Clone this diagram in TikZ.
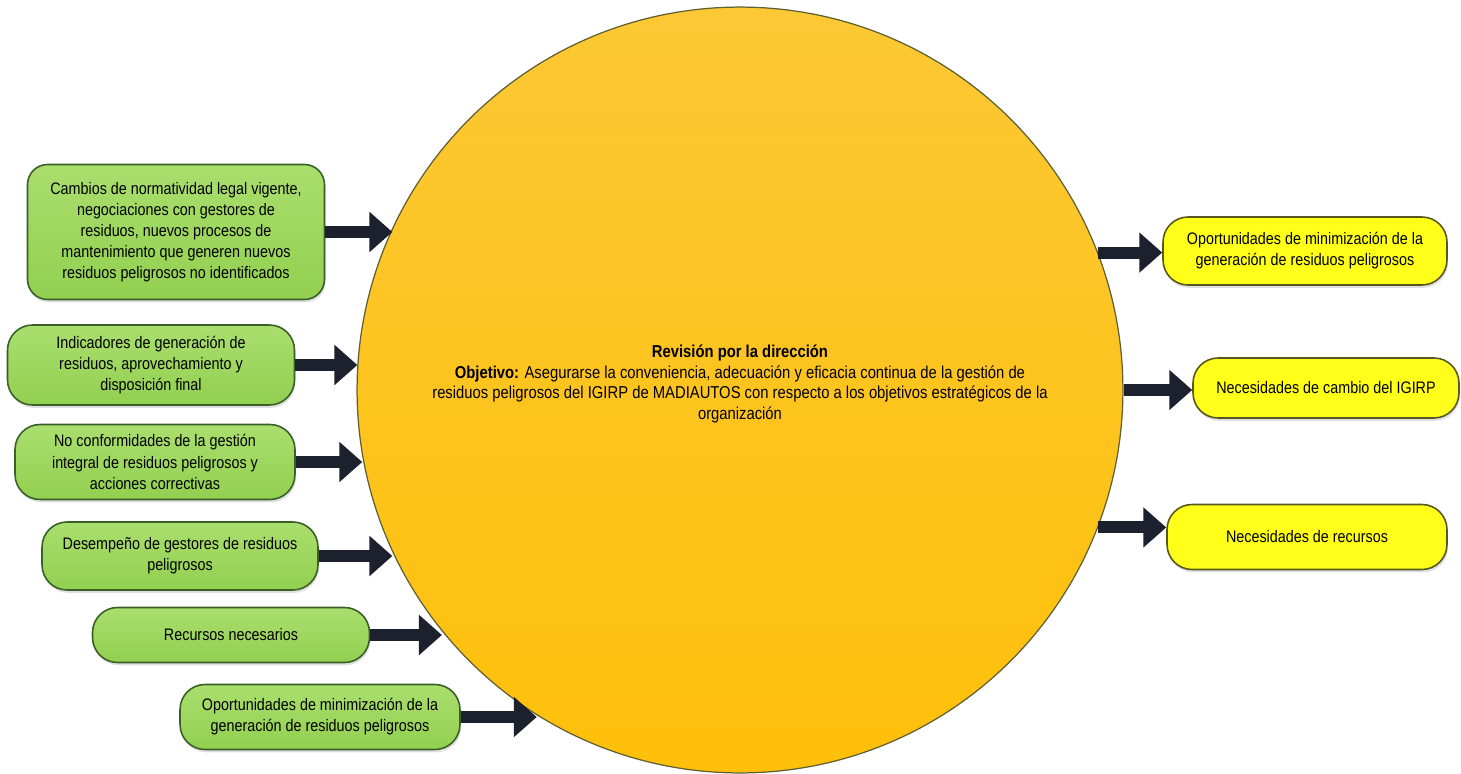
\documentclass[tikz,border=0pt]{standalone}
\usepackage{fontspec}
\setmainfont{Liberation Sans}[FakeStretch=0.86]
\usetikzlibrary{arrows.meta,shadows}
\definecolor{verdecaja}{RGB}{146,208,80}
\definecolor{verdeclaro}{RGB}{170,222,110}
\definecolor{verdeborde}{RGB}{58,96,40}
\definecolor{amarillocaja}{RGB}{255,255,25}
\definecolor{bordeamarillo}{RGB}{88,88,30}
\definecolor{naranjacirc}{RGB}{255,192,10}
\definecolor{naranjaclaro}{RGB}{252,200,52}
\definecolor{bordecirc}{RGB}{95,95,50}
\definecolor{flecha}{RGB}{28,33,45}

\begin{document}
\begin{tikzpicture}[x=0.02cm,y=-0.02cm,line join=round,
  caja/.style={draw=verdeborde,line width=0.9pt,top color=verdeclaro,bottom color=verdecaja,
    rounded corners=0.5cm,align=center,inner sep=2pt,font=\fontsize{9.5}{12}\selectfont,
    drop shadow={opacity=0.25,shadow xshift=0.6pt,shadow yshift=-1.6pt}},
  salida/.style={caja,draw=bordeamarillo,top color=amarillocaja,bottom color=amarillocaja},
  flechagruesa/.style={draw=flecha,line width=0.24cm,-{Triangle[length=0.46cm,width=0.78cm]}}]
  \useasboundingbox (0,0) rectangle (1461,774);
  \node[circle,draw=bordecirc,line width=0.7pt,minimum size=15.32cm,inner sep=0pt,
    top color=naranjaclaro,bottom color=naranjacirc] (revision) at (740,390) {};
  \node[align=center,font=\fontsize{9.8}{11.6}\selectfont] (objetivo) at (740,384)
    {\textbf{Revisión por la dirección}\\
     \textbf{Objetivo:} Asegurarse la conveniencia, adecuación y eficacia continua de la gestión de\\
     residuos peligrosos del IGIRP de MADIAUTOS con respecto a los objetivos estratégicos de la\\
     organización};
  \node[caja,rounded corners=0.4cm,minimum width=5.94cm,minimum height=2.7cm] (cambios) at (176,232)
    {Cambios de normatividad legal vigente,\\negociaciones con gestores de\\residuos, nuevos procesos de\\mantenimiento que generen nuevos\\residuos peligrosos no identificados};
  \node[caja,minimum width=5.74cm,minimum height=1.6cm] (indicadores) at (151,365)
    {Indicadores de generación de\\residuos, aprovechamiento y\\disposición final};
  \node[caja,minimum width=5.6cm,minimum height=1.5cm] (noconformidades) at (155,462)
    {No conformidades de la gestión\\integral de residuos peligrosos y\\acciones correctivas};
  \node[caja,minimum width=5.52cm,minimum height=1.36cm] (desempeno) at (180,556)
    {Desempeño de gestores de residuos\\peligrosos};
  \node[caja,minimum width=5.54cm,minimum height=1.1cm] (recursos) at (231,635)
    {Recursos necesarios};
  \node[caja,minimum width=5.6cm,minimum height=1.3cm] (oportunidades) at (320,717)
    {Oportunidades de minimización de la\\generación de residuos peligrosos};
  \node[salida,minimum width=5.68cm,minimum height=1.36cm] (minimizacion) at (1305,251)
    {Oportunidades de minimización de la\\generación de residuos peligrosos};
  \node[salida,minimum width=5.32cm,minimum height=1.2cm] (cambioigirp) at (1326,388)
    {Necesidades de cambio del IGIRP};
  \node[salida,minimum width=5.6cm,minimum height=1.3cm] (necrecursos) at (1307,537)
    {Necesidades de recursos};
  \draw[flechagruesa] (cambios.east) -- (revision.155.6 |- cambios.east);
  \draw[flechagruesa] (indicadores.east) -- (revision.176.2 |- indicadores.east);
  \draw[flechagruesa] (noconformidades.east) -- (revision.190.9 |- noconformidades.east);
  \draw[flechagruesa] (desempeno.east) -- (revision.205.8 |- desempeno.east);
  \draw[flechagruesa] (recursos.east) -- (revision.219.3 |- recursos.east);
  \draw[flechagruesa] (oportunidades.east) -- (revision.238.9 |- oportunidades.east);
  \draw[flechagruesa] (revision.21.8) -- (revision.21.8 -| minimizacion.west);
  \draw[flechagruesa] (revision.-0.5) -- (revision.-0.5 -| cambioigirp.west);
  \draw[flechagruesa] (revision.-21.1) -- (revision.-21.1 -| necrecursos.west);
\end{tikzpicture}
\end{document}
